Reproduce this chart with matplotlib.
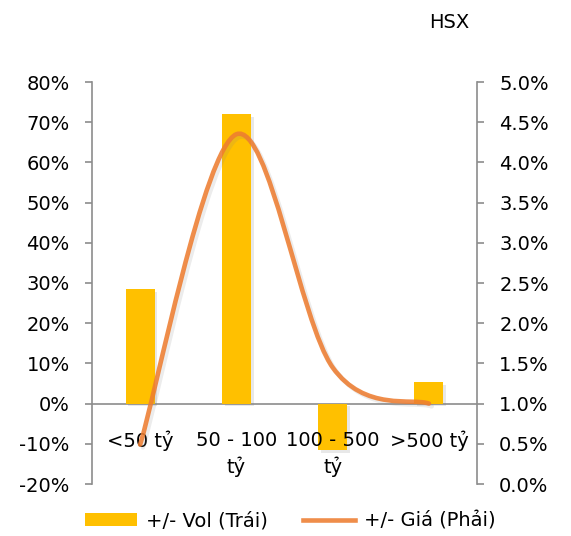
import matplotlib.pyplot as plt
import matplotlib.patheffects as pe
from matplotlib.path import Path
from matplotlib.patches import PathPatch, Patch
from matplotlib.lines import Line2D
from matplotlib.ticker import PercentFormatter, MultipleLocator

categories = ["<50 tỷ", "50 - 100\ntỷ", "100 - 500\ntỷ", ">500 tỷ"]
vol_change = [0.285, 0.72, -0.115, 0.054]      # left axis
price_change = [0.0049, 0.0435, 0.0145, 0.0100]  # right axis

BAR_COLOR = "#FFC000"
LINE_COLOR = "#ED7D31"
AXIS_GREY = "#8C8C8C"
FS = 14


def smooth_path(xs, ys):
    # Excel-like smoothed line: cubic Bezier segments (Catmull-Rom tangents)
    pts = list(zip(xs, ys))
    verts = [pts[0]]
    codes = [Path.MOVETO]
    n = len(pts)
    for i in range(n - 1):
        p0 = pts[i - 1] if i > 0 else pts[i]
        p1 = pts[i]
        p2 = pts[i + 1]
        p3 = pts[i + 2] if i + 2 < n else pts[i + 1]
        c1 = (p1[0] + (p2[0] - p0[0]) / 6, p1[1] + (p2[1] - p0[1]) / 6)
        c2 = (p2[0] - (p3[0] - p1[0]) / 6, p2[1] - (p3[1] - p1[1]) / 6)
        verts += [c1, c2, p2]
        codes += [Path.CURVE4] * 3
    return Path(verts, codes)


def main():
    plt.rcParams["font.family"] = "DejaVu Sans"
    plt.rcParams["font.size"] = FS
    plt.rcParams["axes.unicode_minus"] = False

    fig = plt.figure(figsize=(5.71, 5.36), dpi=100)
    ax = fig.add_axes([92 / 571, 1 - 484 / 536, 385 / 571, 402 / 536])
    ax2 = ax.twinx()

    x = list(range(len(categories)))
    ax.bar(
        x, vol_change, width=0.3, color=BAR_COLOR, zorder=2,
        path_effects=[
            pe.SimplePatchShadow(offset=(2, -2), shadow_rgbFace="#808080", alpha=0.18),
            pe.Normal(),
        ],
    )

    ax.set_xlim(-0.5, len(categories) - 0.5)
    ax.set_ylim(-0.2, 0.8)
    ax.yaxis.set_major_locator(MultipleLocator(0.1))
    ax.yaxis.set_major_formatter(PercentFormatter(1.0, decimals=0))

    ax2.set_ylim(0, 0.05)
    ax2.yaxis.set_major_locator(MultipleLocator(0.005))
    ax2.yaxis.set_major_formatter(PercentFormatter(1.0, decimals=1))

    curve = PathPatch(
        smooth_path(x, price_change), facecolor="none", edgecolor=LINE_COLOR,
        lw=3.3, alpha=0.88, capstyle="round", zorder=3,
        path_effects=[
            pe.SimpleLineShadow(offset=(2, -2), shadow_color="#808080", alpha=0.15),
            pe.Normal(),
        ],
    )
    ax2.add_patch(curve)

    for a in (ax, ax2):
        a.spines["top"].set_visible(False)
        a.spines["bottom"].set_visible(False)
    ax.spines["right"].set_visible(False)
    ax2.spines["left"].set_visible(False)
    ax.spines["left"].set_color(AXIS_GREY)
    ax2.spines["right"].set_color(AXIS_GREY)
    ax.spines["left"].set_linewidth(1.2)
    ax2.spines["right"].set_linewidth(1.2)

    ax.axhline(0, color=AXIS_GREY, lw=1.2, zorder=1)

    ax.tick_params(axis="y", direction="out", length=5, width=1.2,
                   color=AXIS_GREY, pad=11, labelsize=FS)
    ax2.tick_params(axis="y", direction="out", length=5, width=1.2,
                    color=AXIS_GREY, pad=11, labelsize=FS)

    ax.set_xticks([])
    for xi, label in zip(x, categories):
        ax.text(xi, -0.068, label, ha="center", va="top", linespacing=1.4,
                fontsize=FS, zorder=4)

    fig.text(449 / 571, 1 - 23 / 536, "HSX", ha="center", va="center",
             fontsize=FS)

    handles = [
        Patch(facecolor=BAR_COLOR, edgecolor="none"),
        Line2D([0], [0], color=LINE_COLOR, lw=3.3, alpha=0.88),
    ]
    fig.legend(
        handles, ["+/- Vol (Trái)", "+/- Giá (Phải)"], loc="center",
        bbox_to_anchor=(290 / 571, 1 - 521 / 536), ncol=2, frameon=False,
        handlelength=2.7, handleheight=0.65, handletextpad=0.45,
        columnspacing=1.8, fontsize=FS,
    )

    fig.savefig("out.png", dpi=100)


if __name__ == "__main__":
    main()
